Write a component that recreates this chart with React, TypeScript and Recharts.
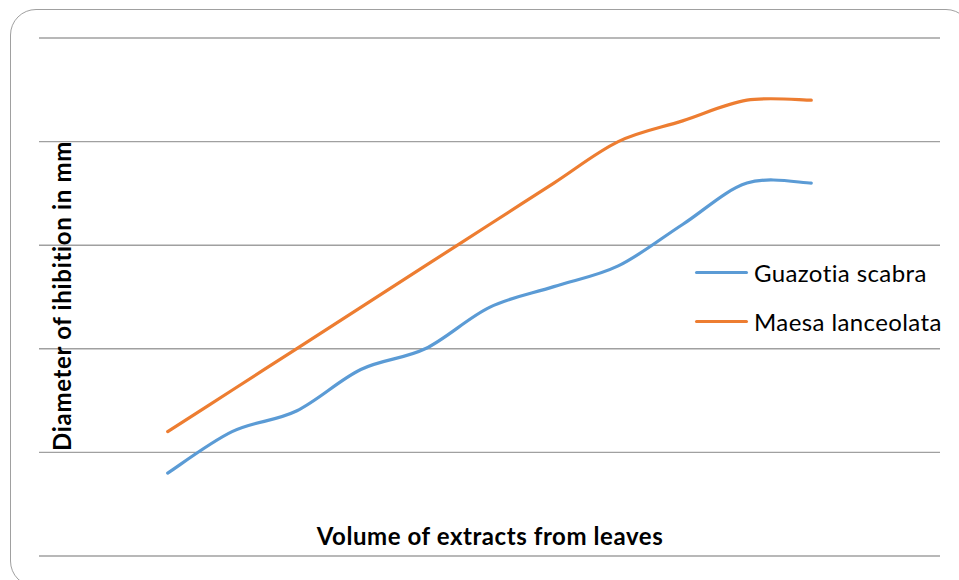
import React from 'react';
import { LineChart, Line, XAxis, YAxis, CartesianGrid, Legend } from 'recharts';

const volumes = [1, 2, 3, 4, 5, 6, 7, 8, 9, 10, 11];
const guazotia = [4, 6, 7, 9, 10, 12, 13, 14, 16, 18, 18];
const maesa = [6, 8, 10, 12, 14, 16, 18, 20, 21, 22, 22];
const yTicks = [0, 5, 10, 15, 20, 25];

const seriesNames = ['Guazotia scabra', 'Maesa lanceolata'];
const colors = ['#5B9BD5', '#ED7D31'];

const data = volumes.map((v, i) => ({ volume: v, g: guazotia[i], m: maesa[i] }));

// Excel-like smoothed line (uniform Catmull-Rom as cubic Bezier)
const excelCurve = (context: any) => {
  let pts: [number, number][] = [];
  return {
    areaStart() {},
    areaEnd() {},
    lineStart() {
      pts = [];
    },
    point(x: number, y: number) {
      pts.push([+x, +y]);
    },
    lineEnd() {
      const n = pts.length;
      if (!n) return;
      context.moveTo(pts[0][0], pts[0][1]);
      for (let i = 0; i < n - 1; i++) {
        const p0 = pts[Math.max(i - 1, 0)];
        const p1 = pts[i];
        const p2 = pts[i + 1];
        const p3 = pts[Math.min(i + 2, n - 1)];
        const c1x = p1[0] + (p2[0] - p0[0]) / 6;
        const c1y = p1[1] + (p2[1] - p0[1]) / 6;
        const c2x = p2[0] - (p3[0] - p1[0]) / 6;
        const c2y = p2[1] - (p3[1] - p1[1]) / 6;
        context.bezierCurveTo(c1x, c1y, c2x, c2y, p2[0], p2[1]);
      }
    },
  };
};

const FONT = 'Lato, "Open Sans", sans-serif';

const LegendContent = (props: any) => {
  const payload = props.payload || [];
  return (
    <div style={{ fontFamily: FONT }}>
      {payload.map((e: any, i: number) => (
        <div key={i} style={{ display: 'flex', alignItems: 'center', height: 49 }}>
          <div style={{ width: 53, height: 3.2, background: e.color, borderRadius: 1.6 }} />
          <span style={{ marginLeft: 6, fontSize: 24, letterSpacing: 0.4, color: '#000' }}>{e.value}</span>
        </div>
      ))}
    </div>
  );
};

export default function App() {
  return (
    <div
      style={{
        position: 'fixed',
        left: 0,
        top: 0,
        width: 959,
        height: 580,
        overflow: 'hidden',
        background: '#fff',
      }}
    >
      <div
        style={{
          position: 'absolute',
          left: 10,
          top: 9,
          width: 962,
          height: 578,
          border: '1.5px solid #a0a0a0',
          borderRadius: 26,
          boxSizing: 'border-box',
        }}
      />
      <div style={{ position: 'absolute', left: 0, top: 0 }}>
        <LineChart
          width={959}
          height={580}
          data={data}
          margin={{ top: 38, right: 19, bottom: 24, left: 39 }}
        >
          <CartesianGrid vertical={false} stroke="#a0a0a0" strokeWidth={1.4} />
          <XAxis dataKey="volume" type="number" domain={[-1, 13]} hide />
          <YAxis domain={[0, 25]} ticks={yTicks} hide />
          <Legend
            layout="vertical"
            align="center"
            verticalAlign="middle"
            content={<LegendContent />}
            wrapperStyle={{ left: 695, top: 248, width: 262 }}
          />
          <Line
            dataKey="g"
            name={seriesNames[0]}
            stroke={colors[0]}
            strokeWidth={3.2}
            type={excelCurve as any}
            dot={false}
            activeDot={false}
            isAnimationActive={false}
            strokeLinecap="round"
          />
          <Line
            dataKey="m"
            name={seriesNames[1]}
            stroke={colors[1]}
            strokeWidth={3.2}
            type={excelCurve as any}
            dot={false}
            activeDot={false}
            isAnimationActive={false}
            strokeLinecap="round"
          />
        </LineChart>
      </div>
      <div
        style={{
          position: 'absolute',
          left: 490,
          top: 536,
          transform: 'translate(-50%, -50%)',
          fontFamily: FONT,
          fontWeight: 700,
          fontSize: 24,
          letterSpacing: 0.57,
          lineHeight: 1,
          whiteSpace: 'nowrap',
          color: '#000',
        }}
      >
        Volume of extracts from leaves
      </div>
      <div
        style={{
          position: 'absolute',
          left: 62,
          top: 296,
          transform: 'translate(-50%, -50%) rotate(-90deg)',
          fontFamily: FONT,
          fontWeight: 700,
          fontSize: 24,
          letterSpacing: 0.67,
          lineHeight: 1,
          whiteSpace: 'nowrap',
          color: '#000',
        }}
      >
        Diameter of ihibition in mm
      </div>
    </div>
  );
}
